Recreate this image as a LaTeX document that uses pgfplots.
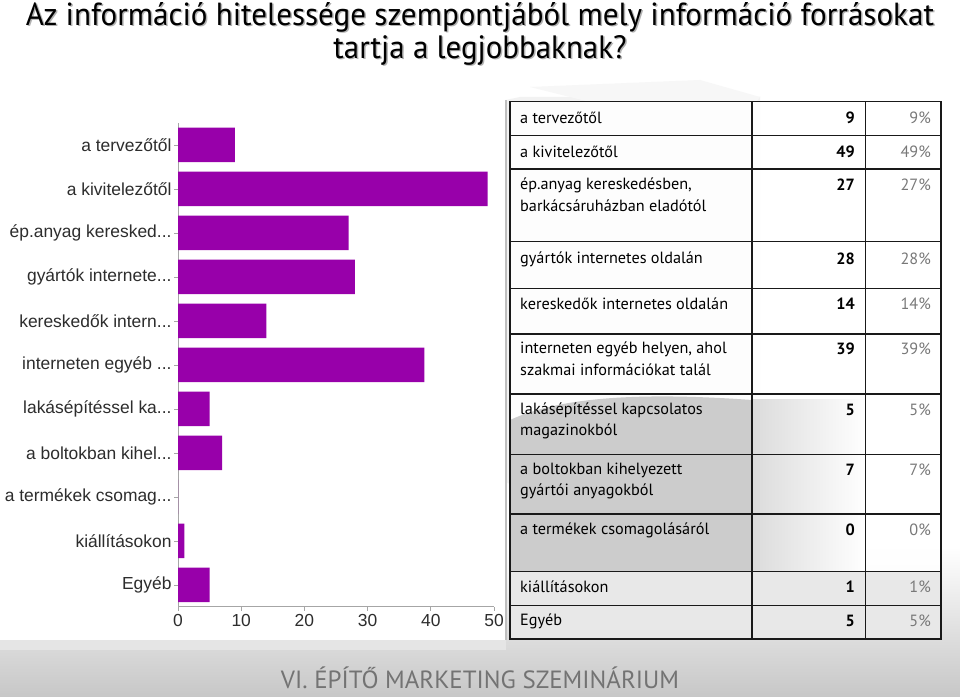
\documentclass[border=0pt]{standalone}
\usepackage{pgfplots}
\pgfplotsset{compat=1.18}
\usepackage{fontspec}
\usepackage{graphicx}
\setmainfont{Liberation Sans}
\newfontfamily\tabfont{PT Sans}
\newfontfamily\titlefont{PT Sans}
\definecolor{barc}{RGB}{152,0,170}
\definecolor{lblc}{RGB}{45,45,45}
\definecolor{pctc}{RGB}{120,120,120}
\newcommand\dd{.\kern0pt.\kern0pt.}
\begin{document}
\begin{tikzpicture}[x=1bp,y=1bp]
\useasboundingbox (0,0) rectangle (960,697);
\fill[white] (0,0) rectangle (960,697);
\shade[top color=white,bottom color=black!22] (0,0) rectangle (960,150);
% faint background graphic
\fill[black!5] (330,560) -- (520,600) -- (760,600) -- (760,300) -- (560,180) -- (330,330) -- cycle;
\fill[black!3] (530,610) -- (700,617) -- (760,600) -- (730,560) -- cycle;
% chart panel
\fill[white] (0,57) rectangle (505,597);
\draw[black!25,line width=1.2] (506,57) -- (506,597);
\fill[black!10] (0,47) rectangle (506,57);
% title
\node[text=black!30] at (481.5,678.8) {\resizebox{908bp}{23bp}{\titlefont\fontsize{30}{30}\selectfont Az információ hitelessége szempontjából mely információ forrásokat}};
\node[text=black] at (480,680) {\resizebox{908bp}{23bp}{\titlefont\fontsize{30}{30}\selectfont Az információ hitelessége szempontjából mely információ forrásokat}};
\node[text=black!30] at (481.5,645.8) {\resizebox{293bp}{23bp}{\titlefont\fontsize{30}{30}\selectfont tartja a legjobbaknak?}};
\node[text=black] at (480,647) {\resizebox{293bp}{23bp}{\titlefont\fontsize{30}{30}\selectfont tartja a legjobbaknak?}};
% chart
\begin{axis}[at={(178bp,90bp)},anchor=south west,scale only axis,
  width=316bp,height=484bp,
  xbar,bar width=34.5bp,
  xmin=0,xmax=50,ymin=-0.5,ymax=10.5,
  axis x line*=bottom,axis y line*=left,
  axis line style={draw=black!35,-,line width=1},
  xtick={0,10,...,50},ytick={0,...,10},
  yticklabels={Egyéb,kiállításokon,a termékek csomag\dd,a boltokban kihel\dd,lakásépítéssel ka\dd,interneten egyéb \dd,kereskedők intern\dd,gyártók internete\dd,ép.anyag keresked\dd,a kivitelezőtől,a tervezőtől},
  tick style={draw=black!35,line width=0.8},major tick length=4bp,tick align=outside,
  ticklabel style={font=\fontsize{17.5}{18}\selectfont,text=lblc},
  yticklabel style={xshift=1bp},
  /pgf/number format/assume math mode=true,
  clip=false]
\addplot[fill=barc,draw=none] coordinates {(9,10) (49,9) (27,8) (28,7) (14,6) (39,5) (5,4) (7,3) (0,2) (1,1) (5,0)};
\end{axis}
% table
\fill[white,opacity=0.85] (510,58) rectangle (941,595.3);
\fill[black!20] (510,277) .. controls (560,300) and (640,305) .. (752,297) -- (752,125.3) -- (510,125.3) -- cycle;
\shade[left color=black!14,right color=white] (752,297) rectangle (865.5,125.3);
\fill[black!9] (510,58) rectangle (941,125.3);
\draw[line width=1.4,black!90] (510,58) rectangle (941,595.3);
\foreach \y in {561.3,528,455.3,408.7,363,303,242.7,183,125.3,91.7} \draw[line width=1.4,black!90] (510,\y) -- (941,\y);
\draw[line width=1.4,black!90] (752,58) -- (752,595.3);
\draw[line width=1.4,black!90] (865.5,58) -- (865.5,595.3);
\tikzset{tl/.style={anchor=west,inner sep=0,font=\tabfont\fontsize{16.3}{17}\selectfont},
  tn/.style={anchor=east,inner sep=0,font=\tabfont\bfseries\fontsize{16.3}{17}\selectfont},
  tp/.style={anchor=east,inner sep=0,text=pctc,font=\tabfont\fontsize{16.3}{17}\selectfont}}
\node[tl] at (520,579) {a tervezőtől}; \node[tn] at (855,579) {9}; \node[tp] at (931,579) {9\%};
\node[tl] at (520,545) {a kivitelezőtől}; \node[tn] at (855,545) {49}; \node[tp] at (931,545) {49\%};
\node[tl] at (520,512) {ép.anyag kereskedésben,}; \node[tl] at (520,491) {barkácsáruházban eladótól}; \node[tn] at (855,512) {27}; \node[tp] at (931,512) {27\%};
\node[tl] at (520,438) {gyártók internetes oldalán}; \node[tn] at (855,438) {28}; \node[tp] at (931,438) {28\%};
\node[tl] at (520,393) {kereskedők internetes oldalán}; \node[tn] at (855,393) {14}; \node[tp] at (931,393) {14\%};
\node[tl] at (520,348) {interneten egyéb helyen, ahol}; \node[tl] at (520,327) {szakmai információkat talál}; \node[tn] at (855,348) {39}; \node[tp] at (931,348) {39\%};
\node[tl] at (520,287) {lakásépítéssel kapcsolatos}; \node[tl] at (520,266) {magazinokból}; \node[tn] at (855,287) {5}; \node[tp] at (931,287) {5\%};
\node[tl] at (520,227) {a boltokban kihelyezett}; \node[tl] at (520,206) {gyártói anyagokból}; \node[tn] at (855,227) {7}; \node[tp] at (931,227) {7\%};
\node[tl] at (520,167) {a termékek csomagolásáról}; \node[tn] at (855,167) {0}; \node[tp] at (931,167) {0\%};
\node[tl] at (520,110) {kiállításokon}; \node[tn] at (855,110) {1}; \node[tp] at (931,110) {1\%};
\node[tl] at (520,76) {Egyéb}; \node[tn] at (855,76) {5}; \node[tp] at (931,76) {5\%};
% footer
\node[text=black!55,font=\tabfont\fontsize{25}{25}\selectfont] at (480,19) {VI. ÉPÍTŐ MARKETING SZEMINÁRIUM};
\end{tikzpicture}
\end{document}
